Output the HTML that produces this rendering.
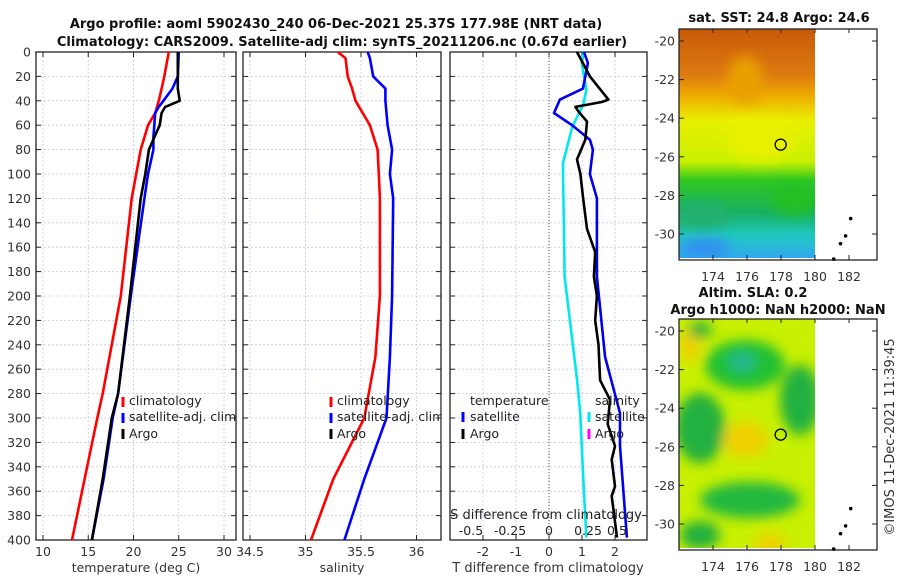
<!DOCTYPE html>
<html><head><meta charset="utf-8"><style>
body{margin:0;background:#fff;}
svg{display:block;font-family:"DejaVu Sans","Liberation Sans",sans-serif;}
</style></head><body>
<svg id="c" width="900" height="580" viewBox="0 0 900 580">
<defs>
<linearGradient id="sstg" x1="0" y1="0" x2="0" y2="1">
<stop offset="0" stop-color="#c85a08"/><stop offset="0.2" stop-color="#dc7a10"/><stop offset="0.3" stop-color="#f0b000"/>
<stop offset="0.4" stop-color="#e8f000"/><stop offset="0.58" stop-color="#c8f000"/><stop offset="0.66" stop-color="#30c820"/>
<stop offset="0.8" stop-color="#18b060"/><stop offset="0.9" stop-color="#20c8c0"/><stop offset="1" stop-color="#30a8f0"/>
</linearGradient>
<filter id="bl"><feGaussianBlur stdDeviation="6"/></filter>
<clipPath id="m1"><rect x="679" y="29" width="136" height="229"/></clipPath>
<clipPath id="m2"><rect x="679" y="319" width="136" height="229"/></clipPath>
</defs>
<g id="root"></g>
</svg>
<script>
// ---- data ----
const tDepth=[0,20,30,40,45,50,60,70,80,100,120,200,280,300,350,400];
const tClim=[23.9,23.4,23.1,22.8,22.6,22.4,21.6,21.2,20.8,20.3,19.8,18.6,16.6,16.0,14.6,13.2];
const tSat=[25.0,24.9,24.3,23.3,22.8,22.4,22.3,22.2,22.2,21.6,21.2,19.7,18.3,17.7,16.7,15.4];
const tArgo=[24.9,24.9,24.9,25.1,23.5,23.1,22.9,22.3,21.7,21.3,20.8,19.6,18.3,17.6,16.6,15.4];
const sDepth=[0,5,20,30,40,60,80,100,120,200,250,300,350,400];
const sClim=[35.29,35.36,35.38,35.42,35.45,35.58,35.65,35.66,35.67,35.67,35.63,35.53,35.25,35.05];
const sSat=[35.56,35.58,35.61,35.72,35.72,35.74,35.78,35.76,35.79,35.78,35.76,35.73,35.53,35.35];
const dTdepth=[0,9,30,39,50,60,72,80,100,120,184,250,296,323,398];
const dTsat=[1.06,1.18,1.03,0.33,0.15,0.7,1.24,1.33,1.24,1.45,1.45,1.7,2.15,2.15,2.36];
const dAdepth=[0,20,39,41,45,49,57,72,88,100,119,145,164,184,200,220,240,269,285,305,323,334,356,364,398];
const dTargo=[0.85,1.24,1.8,1.6,0.8,0.9,1.15,1.1,0.85,0.95,1.03,1.15,1.4,1.36,1.45,1.4,1.5,1.55,1.85,1.78,2.0,1.9,2.0,1.9,2.06];
const dSdepth=[0,9,31,43,61,91,100,147,184,269,296,350,398];
const dSsat=[0.224,0.21,0.24,0.22,0.15,0.09,0.09,0.096,0.1,0.18,0.2,0.22,0.24];
const depthTicks=[0,20,40,60,80,100,120,140,160,180,200,220,240,260,280,300,320,340,360,380,400];
const tTicks=[10,15,20,25,30];
const sTicks=[34.5,35,35.5,36];
const dTticks=[-2,-1,0,1,2];
const dSticks=[-0.5,-0.25,0,0.25,0.5];
const lonTicks=[174,176,178,180,182];
const latTicks=[-20,-22,-24,-26,-28,-30];

const NS="http://www.w3.org/2000/svg";
const root=document.getElementById('root');
function el(tag,attrs,parent,txt){const e=document.createElementNS(NS,tag);for(const k in attrs)e.setAttribute(k,attrs[k]);if(txt!==undefined)e.textContent=txt;(parent||root).appendChild(e);return e;}
const Y0=52,Y1=540;
const yD=d=>Y0+(d/400)*(Y1-Y0);
function lin(d0,d1,r0,r1){return v=>r0+(v-d0)/(d1-d0)*(r1-r0);}
const xT=lin(10,30,43,224);
const xS=lin(34.5,36,250,416.5);
const xDT=lin(0,1,549,582);
const xDS=lin(0,1,549,705);
const FS=12.5;

function panel(name,x0,x1,ticks,xf,showY,labelFn){
  const g=el('g',{});
  
  
  depthTicks.forEach(d=>{if(d>0&&d<400){el('line',{x1:x0,x2:x1,y1:yD(d),y2:yD(d),stroke:'#c4c8e8','stroke-width':0.8,'stroke-dasharray':'2,2'},g);}});
  ticks.forEach(t=>{const x=xf(t);if(x>x0&&x<x1)el('line',{x1:x,x2:x,y1:Y0,y2:Y1,stroke:'#c4c8e8','stroke-width':0.8,'stroke-dasharray':'2,2'},g);});
  depthTicks.forEach(d=>{el('line',{x1:x0,x2:x0+5,y1:yD(d),y2:yD(d),stroke:'#222'},g);el('line',{x1:x1-5,x2:x1,y1:yD(d),y2:yD(d),stroke:'#222'},g);
    if(showY){const t=el('text',{x:x0-5,y:yD(d)+4.5,'text-anchor':'end','font-size':FS,fill:'#333'},g,String(d));}});
  ticks.forEach(t=>{const x=xf(t);el('line',{x1:x,x2:x,y1:Y1,y2:Y1-5,stroke:'#222'},g);el('line',{x1:x,x2:x,y1:Y0,y2:Y0+5,stroke:'#222'},g);
    if(labelFn){const tx=el('text',{x:x,y:556,'text-anchor':'middle','font-size':FS,fill:'#333'},g,labelFn(t));}});
  el('rect',{x:x0,y:Y0,width:x1-x0,height:Y1-Y0,fill:'none',stroke:'#222','stroke-width':1.3},g);
  return g;
}
function line(g,name,depths,vals,xf,color,w){
  const p=el('polyline',{points:depths.map((d,i)=>xf(vals[i]).toFixed(1)+','+yD(d).toFixed(1)).join(' '),fill:'none',stroke:color,'stroke-width':w||2.6,'stroke-linejoin':'round'},g);
  
  
}
function txt(x,y,s,opts,name){const t=el('text',Object.assign({x:x,y:y,'font-size':FS,fill:'#222'},opts||{}),root,s);
  
  return t;}
function mark(x,y,c){el('rect',{x:x-1.5,y:y-10,width:3,height:10,fill:c});}

txt(336,28,'Argo profile: aoml 5902430_240 06-Dec-2021 25.37S 177.98E (NRT data)',{'text-anchor':'middle','font-weight':'bold','font-size':13,fill:'#111'},'title-line-1');
txt(342,46,'Climatology: CARS2009. Satellite-adj clim: synTS_20211206.nc (0.67d earlier)',{'text-anchor':'middle','font-weight':'bold','font-size':13,fill:'#111'},'title-line-2');

const g1=panel('temperature-panel',36,236,tTicks,xT,true,t=>String(t));
line(g1,'temperature-climatology-line',tDepth,tClim,xT,'#ff0000');
line(g1,'temperature-satellite-line',tDepth,tSat,xT,'#0000ff');
line(g1,'temperature-argo-line',tDepth,tArgo,xT,'#000000');
txt(136,572,'temperature (deg C)',{'text-anchor':'middle',fill:'#333'},'temperature-axis-title');
mark(123,407,'#ff0000');txt(129,405,'climatology',{},'legend-climatology');
mark(123,423,'#0000ff');txt(129,421,'satellite-adj. clim',{},'legend-satellite');
mark(123,439,'#000');txt(129,438,'Argo',{},'legend-argo');

const g2=panel('salinity-panel',243,441,sTicks,xS,false,t=>String(t));
line(g2,'salinity-climatology-line',sDepth,sClim,xS,'#ff0000');
line(g2,'salinity-satellite-line',sDepth,sSat,xS,'#0000ff');
txt(342,572,'salinity',{'text-anchor':'middle',fill:'#333'},'salinity-axis-title');
mark(331,407,'#ff0000');txt(337,405,'climatology',{},'legend2-climatology');
mark(331,423,'#0000ff');txt(337,421,'satellite-adj. clim',{},'legend2-satellite');
mark(331,439,'#000');txt(337,438,'Argo',{},'legend2-argo');
el('rect',{x:441.7,y:395,width:7.5,height:50,fill:'#fff'});

const g3=panel('difference-panel',450,647,dTticks,xDT,false,t=>String(t));
el('line',{x1:549,x2:549,y1:Y0,y2:Y1,stroke:'#336633','stroke-width':1,'stroke-dasharray':'1,2'},g3);
line(g3,'salinity-diff-satellite-line',dSdepth,dSsat,xDS,'#00e8ee');
line(g3,'temperature-diff-satellite-line',dTdepth,dTsat,xDT,'#0000ee');
line(g3,'temperature-diff-argo-line',dAdepth,dTargo,xDT,'#000000');
txt(548,572,'T difference from climatology',{'text-anchor':'middle',fill:'#333','font-size':13},'t-diff-axis-title');
txt(546,519,'S difference from climatology',{'text-anchor':'middle',fill:'#222','font-size':13},'s-diff-axis-title');
const sPos={'-0.5':471,'-0.25':510,'0':549,'0.25':588,'0.5':617};
dSticks.forEach(t=>{txt(sPos[String(t)],535,String(t),{'text-anchor':'middle',fill:'#222'},'s-diff-tick-label');});
txt(470,405,'temperature',{},'legend3-temperature-header');
mark(463,422,'#0000ff');txt(470,421,'satellite',{},'legend3-t-satellite');
mark(463,439,'#000');txt(470,438,'Argo',{},'legend3-t-argo');
txt(595,405,'salinity',{},'legend3-salinity-header');
mark(589,422,'#00e8ee');txt(595,421,'satellite',{},'legend3-s-satellite');
mark(589,439,'#ff00ff');txt(595,438,'Argo',{},'legend3-s-argo');

const lonX=lin(174,182,713,849);
function map(name,top,fill){
  const latY=lin(-20,-30,top+12,top+205);
  const g=el('g',{});
  
  
  fill(g);
  el('rect',{x:679,y:top,width:198,height:231,fill:'none',stroke:'#222','stroke-width':1.3},g);
  lonTicks.forEach(l=>{const x=lonX(l);el('line',{x1:x,x2:x,y1:top+231,y2:top+226,stroke:'#222'},g);el('line',{x1:x,x2:x,y1:top,y2:top+4,stroke:'#222'},g);
    const t=el('text',{x:x,y:top+252,'text-anchor':'middle','font-size':FS,fill:'#333'},g,String(l));});
  latTicks.forEach(l=>{const y=latY(l);el('line',{x1:679,x2:684,y1:y,y2:y,stroke:'#222'},g);el('line',{x1:872,x2:877,y1:y,y2:y,stroke:'#222'},g);
    const t=el('text',{x:675,y:y+4.5,'text-anchor':'end','font-size':FS,fill:'#333'},g,String(l));});
  const c=el('ellipse',{cx:lonX(177.98),cy:latY(-25.37),rx:5.5,ry:5.5,fill:'none',stroke:'#000','stroke-width':1.3},g);
  
  [[182.1,-29.2],[181.8,-30.1],[181.5,-30.5],[181.1,-31.3]].forEach(p=>el('circle',{cx:lonX(p[0]),cy:latY(p[1]),r:1.8,fill:'#000'},g));
}
map('sst-map',29,g=>{
  const inner=el('g',{'clip-path':'url(#m1)'},g);
  el('rect',{x:679,y:29,width:136,height:229,fill:'url(#sstg)'},inner);
  const b=el('g',{filter:'url(#bl)'},inner);
  el('ellipse',{cx:745,cy:80,rx:18,ry:24,fill:'#e8a000'},b);
  el('ellipse',{cx:700,cy:215,rx:30,ry:14,fill:'#20b070'},b);
  el('ellipse',{cx:795,cy:200,rx:25,ry:15,fill:'#20c020'},b);
  el('ellipse',{cx:705,cy:248,rx:25,ry:10,fill:'#3090f0'},b);
  el('ellipse',{cx:760,cy:140,rx:35,ry:20,fill:'#e8f000'},b);
});
map('sla-map',319,g=>{
  const inner=el('g',{'clip-path':'url(#m2)'},g);
  el('rect',{x:679,y:319,width:136,height:229,fill:'#c8f000'},inner);
  const b=el('g',{filter:'url(#bl)'},inner);
  el('ellipse',{cx:745,cy:365,rx:40,ry:25,fill:'#20c030'},b);
  el('ellipse',{cx:742,cy:362,rx:14,ry:10,fill:'#20b890'},b);
  el('ellipse',{cx:700,cy:428,rx:25,ry:35,fill:'#20b040'},b);
  el('ellipse',{cx:800,cy:400,rx:20,ry:35,fill:'#20b040'},b);
  el('ellipse',{cx:750,cy:500,rx:50,ry:18,fill:'#20b840'},b);
  el('ellipse',{cx:700,cy:535,rx:20,ry:14,fill:'#20b040'},b);
  el('ellipse',{cx:770,cy:545,rx:15,ry:12,fill:'#f0d000'},b);
  el('ellipse',{cx:745,cy:440,rx:22,ry:18,fill:'#f0d000'},b);
  el('ellipse',{cx:690,cy:345,rx:10,ry:18,fill:'#f0d000'},b);
  el('ellipse',{cx:700,cy:330,rx:12,ry:8,fill:'#20b040'},b);
});
txt(779,22,'sat. SST: 24.8 Argo: 24.6',{'text-anchor':'middle','font-weight':'bold','font-size':13,fill:'#111'},'sst-map-title');
txt(753,297,'Altim. SLA: 0.2',{'text-anchor':'middle','font-weight':'bold','font-size':13,fill:'#111'},'sla-map-title-1');
txt(778,314,'Argo h1000: NaN h2000: NaN',{'text-anchor':'middle','font-weight':'bold','font-size':13,fill:'#111'},'sla-map-title-2');
txt(0,0,'©IMOS 11-Dec-2021 11:39:45',{'text-anchor':'middle',fill:'#333','font-size':13,transform:'translate(894,437) rotate(-90)'},'timestamp-label');
</script>
</body></html>
